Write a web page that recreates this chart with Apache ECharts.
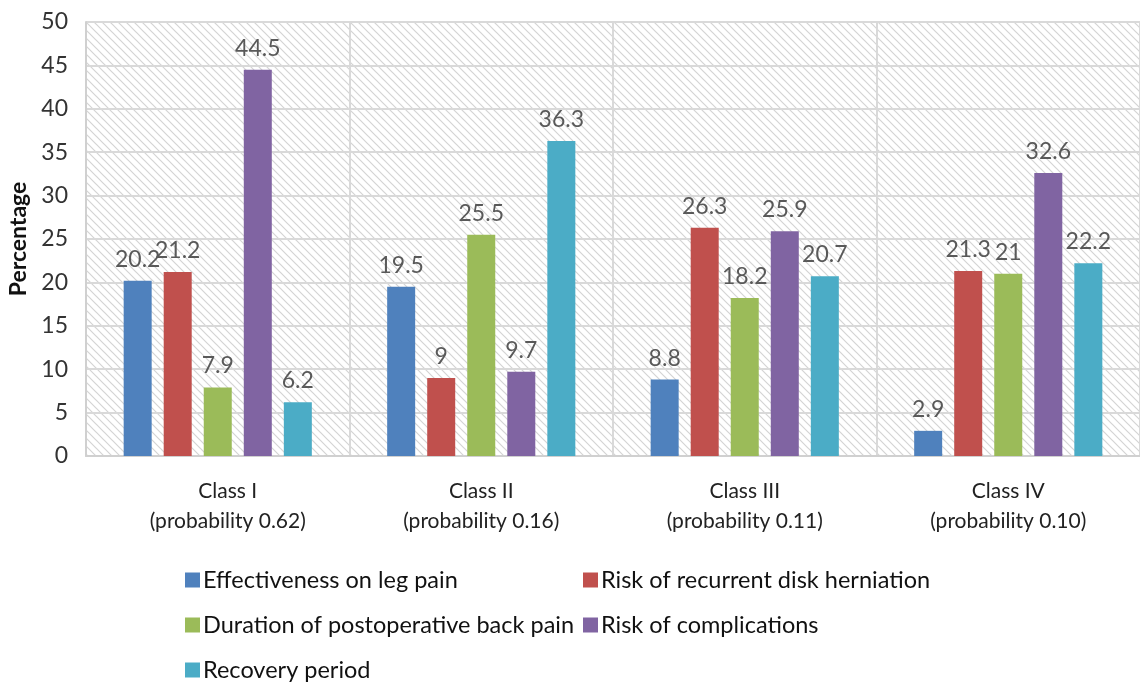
<!DOCTYPE html>
<html>
<head>
<meta charset="utf-8">
<script src="https://cdn.jsdelivr.net/npm/echarts@6/dist/echarts.min.js"></script>
<style>
  html, body { margin: 0; padding: 0; background: #fff; }
  #chart { width: 1140px; height: 682px; }
</style>
</head>
<body>
<div id="chart"></div>
<script>
const categories = [
  'Class I\n(probability 0.62)',
  'Class II\n(probability 0.16)',
  'Class III\n(probability 0.11)',
  'Class IV\n(probability 0.10)'
];
const seriesNames = [
  'Effectiveness on leg pain',
  'Risk of recurrent disk herniation',
  'Duration of postoperative back pain',
  'Risk of complications',
  'Recovery period'
];
const legPain = [20.2, 19.5, 8.8, 2.9];
const recurrentHerniation = [21.2, 9, 26.3, 21.3];
const backPainDuration = [7.9, 25.5, 18.2, 21];
const complications = [44.5, 9.7, 25.9, 32.6];
const recoveryPeriod = [6.2, 36.3, 20.7, 22.2];
const yTicks = [0, 5, 10, 15, 20, 25, 30, 35, 40, 45, 50];

const seriesValues = [legPain, recurrentHerniation, backPainDuration, complications, recoveryPeriod];
const colors = ['#4f81bd', '#c0504d', '#9bbb59', '#8064a2', '#4bacc6'];
const FONT = 'Lato';

// diagonal hatch fill for the plot area
function makeHatch() {
  const c = document.createElement('canvas');
  const s = 8;
  c.width = s; c.height = s;
  const ctx = c.getContext('2d');
  ctx.fillStyle = '#ffffff';
  ctx.fillRect(0, 0, s, s);
  ctx.strokeStyle = '#d4d4d4';
  ctx.lineWidth = 1.2;
  ctx.beginPath();
  ctx.moveTo(-1, -1); ctx.lineTo(s + 1, s + 1);
  ctx.moveTo(-1, s - 1); ctx.lineTo(1, s + 1);
  ctx.moveTo(s - 1, -1); ctx.lineTo(s + 1, 1);
  ctx.stroke();
  return c;
}

const chart = echarts.init(document.getElementById('chart'), null, { renderer: 'canvas' });

const series = seriesNames.map((name, i) => ({
  name: name,
  type: 'bar',
  data: seriesValues[i],
  barWidth: 28,
  barGap: '43%',
  itemStyle: { color: colors[i] },
  label: {
    show: true,
    position: 'top',
    distance: 10,
    color: '#595959',
    fontFamily: FONT,
    fontSize: 23
  }
}));

const legendBase = {
  orient: 'vertical',
  top: 563,
  height: 200,
  itemWidth: 15, itemHeight: 15, itemGap: 21,
  icon: 'rect',
  textStyle: { color: '#111111', fontFamily: FONT, fontSize: 23.5, padding: [0, 0, 0, -2] }
};

const labelRich = {
  first: { padding: [0, 0, 0, 20], fontFamily: FONT, fontSize: 21, lineHeight: 30, color: '#222222' }
};

chart.setOption({
  animation: false,
  backgroundColor: '#ffffff',
  grid: {
    left: 86, right: 0, top: 22, bottom: 226,
    outerBoundsMode: 'none',
    containLabel: false,
    show: true,
    borderWidth: 0,
    backgroundColor: { image: makeHatch(), repeat: 'repeat' }
  },
  xAxis: {
    type: 'category',
    data: categories,
    axisLine: { show: true, lineStyle: { color: '#d0d0d0', width: 2 } },
    axisTick: { show: false },
    splitLine: { show: true, interval: 0, lineStyle: { color: '#d9d9d9', width: 2 } },
    axisLabel: {
      interval: 0,
      hideOverlap: false,
      color: '#222222',
      fontFamily: FONT,
      fontSize: 21,
      lineHeight: 30,
      margin: 20,
      rich: labelRich,
      // the first class label sits slightly right of its bar group
      formatter: (value, index) => index === 0
        ? value.split('\n').map(s => '{first|' + s + '}').join('\n')
        : value
    }
  },
  yAxis: {
    type: 'value',
    min: 0, max: 50, interval: 5,
    name: 'Percentage',
    nameLocation: 'middle',
    nameGap: 51,
    nameTextStyle: { color: '#111111', fontFamily: FONT, fontSize: 23, fontWeight: 'bold' },
    axisLine: { show: true, lineStyle: { color: '#d0d0d0', width: 2 } },
    axisTick: { show: false },
    splitLine: { show: true, lineStyle: { color: '#d9d9d9', width: 2 } },
    axisLabel: {
      color: '#333333',
      fontFamily: FONT,
      fontSize: 23,
      margin: 18,
      formatter: v => (yTicks.indexOf(v) >= 0 ? String(v) : '')
    }
  },
  legend: [
    Object.assign({}, legendBase, {
      data: [seriesNames[0], seriesNames[2], seriesNames[4]],
      left: 180
    }),
    Object.assign({}, legendBase, {
      data: [seriesNames[1], seriesNames[3]],
      left: 578
    })
  ],
  series: series
});
</script>
</body>
</html>
